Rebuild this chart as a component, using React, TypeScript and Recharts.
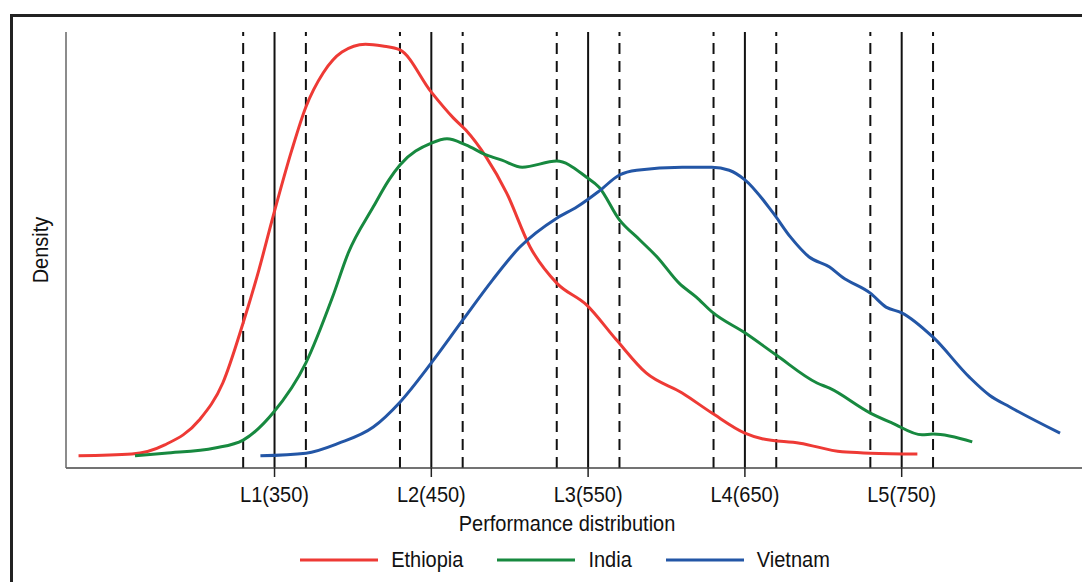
import React from 'react'
import { LineChart, Line, XAxis, YAxis, ReferenceLine, Legend } from 'recharts'

interface Point {
  score: number
  density: number
}

// density curves (density in arbitrary units, 0-100)
const ethiopia: Point[] = [
  { score: 225, density: 2.8 }, { score: 259, density: 3.2 }, { score: 280, density: 5.3 },
  { score: 302, density: 11.0 }, { score: 317, density: 19.5 }, { score: 330, density: 33.3 },
  { score: 340, density: 45.4 }, { score: 349, density: 57.6 }, { score: 361, density: 72.9 },
  { score: 370, density: 82.8 }, { score: 381, density: 90.6 }, { score: 393, density: 95.4 },
  { score: 408, density: 97.2 }, { score: 419, density: 96.8 }, { score: 430, density: 95.9 },
  { score: 450, density: 86.2 }, { score: 464, density: 80.3 }, { score: 472, density: 77.5 },
  { score: 485, density: 71.3 }, { score: 498, density: 63.1 }, { score: 513, density: 50.7 },
  { score: 530, density: 42.4 }, { score: 549, density: 37.4 }, { score: 568, density: 29.4 },
  { score: 587, density: 21.8 }, { score: 610, density: 17.2 }, { score: 629, density: 12.6 },
  { score: 650, density: 8.0 }, { score: 661, density: 6.7 }, { score: 685, density: 5.7 },
  { score: 712, density: 3.7 }, { score: 730, density: 3.4 }, { score: 760, density: 3.2 },
]

const india: Point[] = [
  { score: 261, density: 2.8 }, { score: 280, density: 3.4 }, { score: 312, density: 4.6 },
  { score: 330, density: 6.4 }, { score: 349, density: 12.6 }, { score: 370, density: 24.1 },
  { score: 387, density: 39.2 }, { score: 397, density: 49.3 }, { score: 413, density: 59.9 },
  { score: 423, density: 66.1 }, { score: 430, density: 69.5 }, { score: 450, density: 74.5 },
  { score: 460, density: 75.5 }, { score: 472, density: 74.1 }, { score: 485, density: 71.8 },
  { score: 495, density: 70.6 }, { score: 508, density: 69.0 }, { score: 530, density: 70.4 },
  { score: 549, density: 66.7 }, { score: 557, density: 64.4 }, { score: 570, density: 56.9 },
  { score: 583, density: 52.3 }, { score: 594, density: 48.4 }, { score: 608, density: 42.4 },
  { score: 619, density: 39.2 }, { score: 629, density: 35.8 }, { score: 650, density: 31.0 },
  { score: 670, density: 25.9 }, { score: 696, density: 19.5 }, { score: 704, density: 18.3 },
  { score: 730, density: 12.6 }, { score: 744, density: 10.3 }, { score: 763, density: 7.6 },
  { score: 770, density: 7.8 }, { score: 795, density: 6.0 },
]

const vietnam: Point[] = [
  { score: 341, density: 2.8 }, { score: 370, density: 3.4 }, { score: 391, density: 5.7 },
  { score: 413, density: 9.4 }, { score: 430, density: 15.1 }, { score: 450, density: 24.1 },
  { score: 470, density: 33.9 }, { score: 489, density: 43.1 }, { score: 506, density: 50.5 },
  { score: 530, density: 57.3 }, { score: 543, density: 59.9 }, { score: 557, density: 63.5 },
  { score: 570, density: 67.2 }, { score: 581, density: 68.3 }, { score: 610, density: 69.0 },
  { score: 629, density: 69.0 }, { score: 640, density: 68.3 }, { score: 650, density: 66.1 },
  { score: 668, density: 58.5 }, { score: 679, density: 53.0 }, { score: 691, density: 48.4 },
  { score: 704, density: 46.1 }, { score: 712, density: 43.8 }, { score: 730, density: 40.1 },
  { score: 740, density: 36.9 }, { score: 750, density: 35.6 }, { score: 770, density: 30.0 },
  { score: 793, density: 20.9 }, { score: 806, density: 16.7 }, { score: 819, density: 14.0 },
  { score: 851, density: 8.0 },
]

// performance levels and their +/-20 bands
const levelScores = [350, 450, 550, 650, 750]
const levelNames = ['L1', 'L2', 'L3', 'L4', 'L5']
const bandEdges = [330, 370, 430, 470, 530, 570, 630, 670, 730, 770]

const series = [
  { name: 'Ethiopia', data: ethiopia, color: '#ee3a35' },
  { name: 'India', data: india, color: '#17893f' },
  { name: 'Vietnam', data: vietnam, color: '#2356a6' },
]

const font = "'Liberation Sans', Arial, Helvetica, sans-serif"
const stretch = 1.12 // the original type is a little taller than Arial

const LevelTick = (props: any) => {
  const { x, y, payload } = props
  const i = levelScores.indexOf(payload.value)
  return (
    <text
      transform={`translate(${x} ${y + 25}) scale(1 ${stretch})`}
      textAnchor="middle" fontSize={20} fontFamily={font} fill="#111"
    >
      {`${levelNames[i]}(${payload.value})`}
    </text>
  )
}

const DensityLabel = (props: any) => {
  const { viewBox } = props
  const x = viewBox.x + viewBox.width - 18
  const y = viewBox.y + viewBox.height / 2
  return (
    <text
      transform={`translate(${x} ${y}) rotate(-90) scale(1 ${stretch})`}
      textAnchor="middle" fontSize={20} fontFamily={font} fill="#111"
    >
      Density
    </text>
  )
}

const ScoreLabel = (props: any) => {
  const { viewBox } = props
  const x = viewBox.x + viewBox.width / 2 - 7
  const y = viewBox.y + 63
  return (
    <text
      transform={`translate(${x} ${y}) scale(1 ${stretch})`}
      textAnchor="middle" fontSize={20} fontFamily={font} fill="#111"
    >
      Performance distribution
    </text>
  )
}

const renderLegend = () => (
  <div style={{ display: 'flex', justifyContent: 'center', alignItems: 'center', fontFamily: font, fontSize: 20, color: '#111' }}>
    {series.map((s) => (
      <div key={s.name} style={{ display: 'flex', alignItems: 'center', marginRight: 34 }}>
        <svg width={78} height={6} style={{ marginRight: 13 }}>
          <line x1={0} y1={3} x2={78} y2={3} stroke={s.color} strokeWidth={3} />
        </svg>
        <span style={{ display: 'inline-block', transform: `scaleY(${stretch})` }}>{s.name}</span>
      </div>
    ))}
  </div>
)

const App: React.FC = () => {
  return (
    <div style={{ position: 'absolute', left: 0, top: 0, width: 1082, height: 582, background: '#fff', overflow: 'hidden' }}>
      <div
        style={{
          position: 'absolute', left: 10, top: 14, width: 1200, height: 700,
          borderLeft: '3px solid #222', borderTop: '3px solid #222',
        }}
      />
      <LineChart
        width={1082}
        height={582}
        margin={{ top: 32, right: 0, bottom: 84, left: 65 }}
        style={{ position: 'absolute', left: 0, top: 0 }}
      >
        <XAxis
          type="number"
          dataKey="score"
          domain={[217, 865]}
          allowDataOverflow
          ticks={levelScores}
          interval={0}
          height={30}
          tickSize={9}
          tickMargin={0}
          tick={<LevelTick />}
          tickLine={{ stroke: '#222', strokeWidth: 1.5 }}
          axisLine={{ stroke: '#444', strokeWidth: 1.5 }}
          label={<ScoreLabel />}
        />
        <YAxis
          type="number"
          domain={[0, 100]}
          width={1}
          tick={false}
          tickLine={false}
          axisLine={{ stroke: '#666', strokeWidth: 1.5 }}
          label={<DensityLabel />}
        />
        {bandEdges.map((v) => (
          <ReferenceLine key={`b${v}`} x={v} stroke="#111" strokeWidth={2} strokeDasharray="11 7" />
        ))}
        {levelScores.map((v) => (
          <ReferenceLine key={`l${v}`} x={v} stroke="#111" strokeWidth={2} />
        ))}
        {series.map((s) => (
          <Line
            key={s.name}
            data={s.data}
            dataKey="density"
            name={s.name}
            type="monotone"
            stroke={s.color}
            strokeWidth={3}
            dot={false}
            activeDot={false}
            isAnimationActive={false}
          />
        ))}
        <Legend
          layout="horizontal"
          verticalAlign="middle"
          align="center"
          content={renderLegend}
          wrapperStyle={{ top: 548, left: 80, width: 1004, height: 26 }}
        />
      </LineChart>
    </div>
  )
}

export default App
